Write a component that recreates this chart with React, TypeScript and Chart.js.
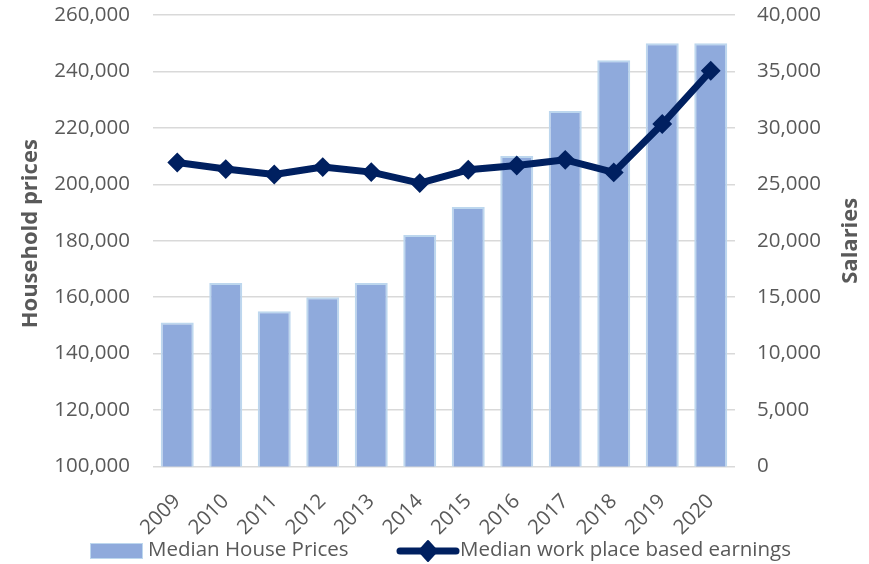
import React, { useEffect, useRef } from "react";
import { Chart, registerables } from "chart.js";

Chart.register(...registerables);

const years = ["2009", "2010", "2011", "2012", "2013", "2014", "2015", "2016", "2017", "2018", "2019", "2020"];
const housePrices = [151000, 165000, 155000, 160000, 165000, 182000, 192000, 210000, 226000, 244000, 250000, 250000];
const earnings = [26930, 26350, 25870, 26530, 26080, 25110, 26290, 26670, 27170, 26050, 30340, 35060];
const leftTicks = { min: 100000, max: 260000, step: 20000 };
const rightTicks = { min: 0, max: 40000, step: 5000 };
const seriesNames = ["Median House Prices", "Median work place based earnings"];
const axisTitles = ["Household prices", "Salaries"];

const FONT = "'Open Sans', Lato, sans-serif";
const FS = 20.5;
const GREY = "#595959";
const BAR_FILL = "#8FAADC";
const BAR_BORDER = "#BDD7EE";
const LINE = "#002060";

export default function App() {
  const ref = useRef<HTMLCanvasElement | null>(null);

  useEffect(() => {
    const canvas = ref.current;
    if (!canvas) return;

    const titlesPlugin = {
      id: "axisTitles",
      afterDraw(chart: any) {
        const ctx = chart.ctx;
        const left = chart.scales.y;
        const right = chart.scales.y1;
        const drawTitle = (text: string, x: number, y: number) => {
          ctx.save();
          ctx.font = `bold 22px ${FONT}`;
          ctx.fillStyle = GREY;
          ctx.textAlign = "center";
          ctx.textBaseline = "alphabetic";
          ctx.translate(x, y);
          ctx.rotate(-Math.PI / 2);
          ctx.fillText(text, 0, 0);
          ctx.restore();
        };
        drawTitle(axisTitles[0], left.left + 37, (left.top + left.bottom) / 2 - 7);
        drawTitle(axisTitles[1], right.right - 12.5, (right.top + right.bottom) / 2);
      },
    };

    const noVPad = (scale: any, w: number) => {
      scale.width = w;
      scale.paddingTop = 0;
      scale.paddingBottom = 0;
    };

    const chart = new Chart(canvas, {
      type: "bar",
      data: {
        labels: years,
        datasets: [
          {
            type: "line",
            label: seriesNames[1],
            data: earnings,
            yAxisID: "y1",
            borderColor: LINE,
            backgroundColor: LINE,
            borderWidth: 7,
            borderJoinStyle: "round",
            borderCapStyle: "round",
            tension: 0,
            pointStyle: "rectRot",
            pointRadius: 8.5,
            pointBorderWidth: 2,
            pointBackgroundColor: LINE,
            pointBorderColor: LINE,
            order: 0,
          } as any,
          {
            type: "bar",
            label: seriesNames[0],
            data: housePrices,
            yAxisID: "y",
            backgroundColor: BAR_FILL,
            borderColor: BAR_BORDER,
            borderWidth: 2,
            barPercentage: 0.68,
            categoryPercentage: 1,
            order: 1,
          } as any,
        ],
      },
      options: {
        responsive: false,
        animation: false,
        events: [],
        layout: { padding: { top: 15, left: 0, right: 0, bottom: 0 } },
        plugins: {
          legend: { display: false },
          tooltip: { enabled: false },
        },
        scales: {
          x: {
            grid: { display: false },
            border: { display: false },
            ticks: {
              color: GREY,
              font: { family: FONT, size: FS },
              minRotation: 45,
              maxRotation: 45,
              padding: 15,
            },
            afterFit(scale: any) {
              scale.height = 97.5;
              scale.paddingLeft = 0;
              scale.paddingRight = 0;
            },
          },
          y: {
            position: "left",
            min: leftTicks.min,
            max: leftTicks.max,
            border: { display: false },
            grid: { color: "#D9D9D9", lineWidth: 1.5, drawTicks: false },
            ticks: {
              stepSize: leftTicks.step,
              color: GREY,
              padding: 23,
              font: { family: FONT, size: FS },
              callback: (v: any) => Number(v).toLocaleString("en-US"),
            },
            afterFit(scale: any) {
              noVPad(scale, 153);
            },
          },
          y1: {
            position: "right",
            min: rightTicks.min,
            max: rightTicks.max,
            border: { display: false },
            grid: { drawOnChartArea: false, drawTicks: false },
            ticks: {
              stepSize: rightTicks.step,
              color: GREY,
              padding: 22,
              font: { family: FONT, size: FS },
              callback: (v: any) => Number(v).toLocaleString("en-US"),
            },
            afterFit(scale: any) {
              noVPad(scale, 134);
            },
          },
        },
      } as any,
      plugins: [titlesPlugin],
    });
    return () => chart.destroy();
  }, []);

  const legendText: React.CSSProperties = {
    position: "absolute",
    fontFamily: FONT,
    fontSize: FS,
    lineHeight: "20px",
    color: GREY,
    whiteSpace: "nowrap",
  };

  return (
    <div style={{ position: "absolute", left: 0, top: 0, width: 869, height: 564, background: "#fff", overflow: "hidden" }}>
      <canvas ref={ref} width={869} height={564} style={{ position: "absolute", left: 0, top: 0, width: 869, height: 564 }} />
      <div style={{ position: "absolute", left: 90, top: 543, width: 51, height: 14, background: BAR_FILL, border: `1px solid ${BAR_BORDER}` }} />
      <div style={{ ...legendText, left: 148, top: 538 }}>{seriesNames[0]}</div>
      <svg style={{ position: "absolute", left: 392, top: 538 }} width={72} height={26}>
        <line x1={8} y1={13} x2={64} y2={13} stroke={LINE} strokeWidth={7} strokeLinecap="round" />
        <polygon points="36,3 45,13 36,23 27,13" fill={LINE} stroke={LINE} strokeWidth={2} strokeLinejoin="round" />
      </svg>
      <div style={{ ...legendText, left: 460, top: 538 }}>{seriesNames[1]}</div>
    </div>
  );
}
